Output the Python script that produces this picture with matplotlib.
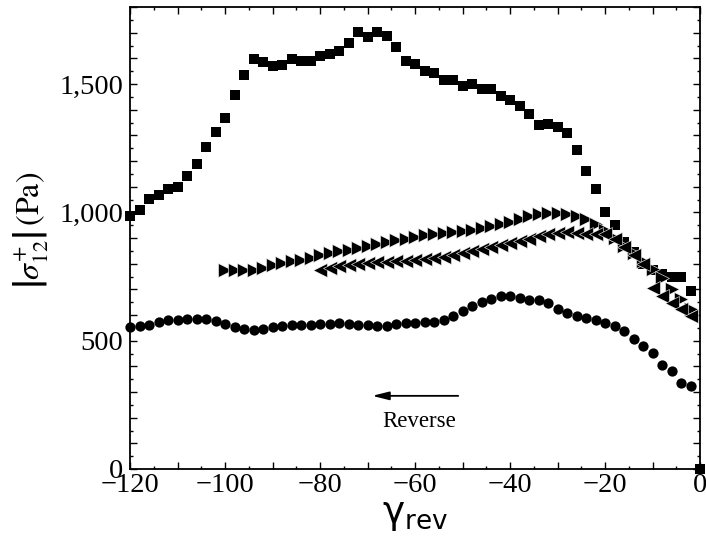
import matplotlib
matplotlib.use("Agg")
import matplotlib.pyplot as plt
from matplotlib.ticker import MultipleLocator, FuncFormatter
import numpy as np

# ---- data ----
sq_x = list(range(-120, 0, 2)) + [0]
sq_y = [984, 1009, 1051, 1066, 1092, 1099, 1142, 1189, 1254, 1312,
        1367, 1456, 1534, 1596, 1587, 1571, 1575, 1596, 1589, 1589,
        1610, 1615, 1630, 1661, 1701, 1685, 1703, 1686, 1643, 1591,
        1578, 1552, 1543, 1517, 1517, 1491, 1500, 1480, 1480, 1454,
        1438, 1413, 1384, 1340, 1344, 1331, 1309, 1243, 1161, 1090,
        1003, 949, 885, 845, 799, 774, 761, 747, 750, 693, 0]

circ_x = list(range(-120, 0, 2))
circ_y = [552, 556, 562, 572, 579, 582, 586, 586, 586, 578,
          566, 553, 547, 543, 547, 552, 559, 561, 561, 562,
          565, 566, 569, 566, 562, 560, 559, 559,
          566, 569, 569, 572, 572, 579, 595, 615, 634, 650,
          663, 673, 673, 667, 660, 657, 647, 624, 608, 595,
          589, 582, 569, 556, 536, 508, 480, 452, 406, 380, 335, 324]

fwd_x = list(range(-100, 0, 2))
fwd_y = [775, 775, 775, 777, 784, 793, 801, 810, 816, 823,
         832, 840, 849, 855, 862, 868, 875, 884, 892, 897,
         905, 910, 917, 921, 925, 929, 933, 938, 945, 954,
         964, 975, 986, 992, 999, 999, 992, 986, 973, 955,
         930, 900, 870, 840, 810, 780, 745, 700, 662, 625]

rev_x = list(range(-80, 0, 2))
rev_y = [777, 784, 790, 795, 799, 802, 805, 808, 810, 812,
         814, 817, 821, 826, 832, 840, 848, 856, 864, 872,
         882, 890, 898, 906, 914, 921, 923, 918, 915, 916,
         915, 895, 865, 835, 800, 706, 673, 648, 623, 597]

# ---- figure ----
W, H = 706, 542
fig = plt.figure(figsize=(W / 100, H / 100), dpi=100)
ax = fig.add_axes([130 / W, (H - 469) / H, 570 / W, 462 / H])

ax.plot(sq_x, sq_y, ls='none', marker='s', ms=6.8, color='black',
        mec='black', mew=0, clip_on=False, zorder=3)
ax.plot(circ_x, circ_y, ls='none', marker='o', ms=7.4, color='black',
        mec='black', mew=0, clip_on=False, zorder=3)
ax.plot(fwd_x, fwd_y, ls='none', marker='>', ms=10, color='black',
        mec='white', mew=0.4, clip_on=False, zorder=4)
ax.plot(rev_x, rev_y, ls='none', marker='<', ms=10, color='black',
        mec='white', mew=0.4, clip_on=False, zorder=4)

ax.set_xlim(-120, 0)
ax.set_ylim(0, 1800)

serif = 'Liberation Serif'

def xfmt(v, pos):
    iv = int(round(v))
    if iv % 20 != 0:
        return ''
    return ('\u2212%d' % -iv) if iv < 0 else '%d' % iv

def yfmt(v, pos):
    iv = int(round(v))
    if iv % 500 != 0:
        return ''
    return '{:,}'.format(iv)

ax.xaxis.set_major_locator(MultipleLocator(10))
ax.xaxis.set_minor_locator(MultipleLocator(5))
ax.yaxis.set_major_locator(MultipleLocator(100))
ax.yaxis.set_minor_locator(MultipleLocator(50))
ax.xaxis.set_major_formatter(FuncFormatter(xfmt))
ax.yaxis.set_major_formatter(FuncFormatter(yfmt))

ax.tick_params(which='both', direction='in', top=True, right=True,
               width=1.0, colors='black')
ax.tick_params(which='major', length=5)
ax.tick_params(which='minor', length=2.5)
ax.tick_params(axis='x', which='major', pad=3)
ax.tick_params(axis='y', which='major', pad=5)
for lab in ax.get_xticklabels() + ax.get_yticklabels():
    lab.set_fontfamily(serif)
    lab.set_fontsize(20.5)

for sp in ax.spines.values():
    sp.set_linewidth(1.3)

ax.set_ylabel(r'$\left|\sigma_{12}^{+}\right|\,(\mathrm{Pa})$', fontsize=23,
              math_fontfamily='stix')
ax.yaxis.set_label_coords(-0.14, 0.517)
ax.set_xlabel(r'$\mathrm{\gamma}_{\mathrm{rev}}$', fontsize=27,
              math_fontfamily='dejavusans', labelpad=-1)

ax.annotate('', xy=(-69.0, 285), xytext=(-50.9, 285),
            arrowprops=dict(arrowstyle='-|>,head_length=1.0,head_width=0.25',
                            color='black', lw=1.3, shrinkA=0, shrinkB=0))
ax.text(-59.2, 184, 'Reverse', fontfamily=serif, fontsize=16.5,
        ha='center', va='center')

fig.savefig('out.png', dpi=100)
